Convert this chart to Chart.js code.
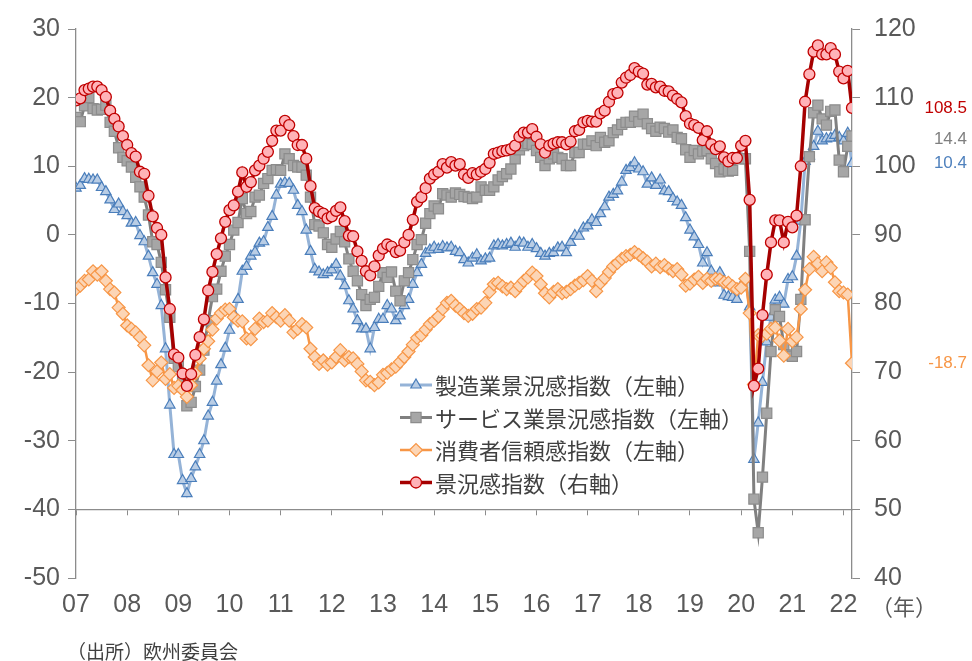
<!DOCTYPE html>
<html>
<head>
<meta charset="utf-8">
<script src="https://cdn.jsdelivr.net/npm/chart.js@4.4.1/dist/chart.umd.min.js"></script>
<style>
  html, body { margin: 0; padding: 0; background: #fff; }
  #wrap { width: 972px; height: 661px; }
</style>
</head>
<body>
<div id="wrap"><canvas id="c" width="972" height="661"></canvas></div>
<script>
// monthly, Jan 2007 .. Mar 2022
const yearLabels = ["07","08","09","10","11","12","13","14","15","16","17","18","19","20","21","22"];

const industry = [
  6.8, 7.2, 8.2, 8.1, 8.0, 8.0, 6.9, 6.3, 5.1, 3.7, 4.5, 3.4,
  2.8, 1.7, 1.8, -0.1, -1.0, -3.1, -5.5, -7.2, -10.3, -16.6, -24.8, -32.0,
  -32.0, -35.8, -37.7, -35.5, -33.8, -32.0, -30.0, -26.4, -24.4, -21.3, -18.9, -16.5,
  -13.9, -11.5, -9.4, -5.3, -4.6, -3.1, -2.5, -1.2, -1.0, 1.1, 2.7, 5.8,
  7.4, 7.6, 7.5, 6.5, 4.3, 3.4, 0.7, -2.4, -5.0, -5.4, -5.8, -5.5,
  -5.1, -4.3, -6.0, -7.4, -9.6, -10.8, -12.5, -13.7, -13.7, -16.6, -13.5, -12.3,
  -12.3, -10.3, -10.8, -12.5, -11.8, -10.3, -9.4, -7.2, -5.5, -4.3, -2.7, -2.2,
  -1.8, -2.1, -1.7, -1.9, -1.8, -2.4, -2.6, -3.6, -4.1, -3.4, -2.9, -3.8,
  -3.5, -3.4, -1.6, -1.4, -1.6, -1.4, -1.2, -1.8, -1.1, -1.2, -1.8, -1.4,
  -2.0, -2.7, -3.1, -2.7, -2.6, -1.9, -1.8, -2.6, -1.1, -0.1, -0.2, 1.0,
  1.3, 2.2, 1.8, 3.1, 4.1, 5.5, 5.9, 6.4, 7.7, 9.4, 9.8, 10.5,
  9.6, 9.2, 7.4, 8.3, 7.2, 8.0, 6.4, 6.3, 5.3, 4.8, 4.3, 2.5,
  0.7, -0.3, -1.4, -4.1, -2.6, -5.3, -7.0, -5.5, -8.8, -9.0, -9.1, -9.4,
  -7.4, -6.5, -10.5, -32.7, -27.4, -21.5, -15.6, -12.0, -9.5, -9.1, -10.1, -6.5,
  -6.1, -3.1, 2.0, 10.7, 11.5, 12.9, 15.1, 13.7, 14.0, 14.1, 14.5, 14.2,
  13.7, 14.8, 10.4
];

const services = [
  17.1, 16.5, 18.8, 20.0, 18.4, 18.2, 18.3, 18.9, 16.4, 15.1, 12.7, 11.3,
  10.8, 9.9, 8.4, 7.0, 5.5, 2.9, -1.0, -1.4, -4.0, -8.0, -12.0, -18.0,
  -19.2, -21.4, -24.9, -24.4, -22.1, -19.7, -16.8, -12.5, -9.0, -7.9, -5.3, -3.1,
  -1.4, 0.7, 1.8, 5.3, 3.1, 3.4, 5.5, 5.8, 7.5, 8.2, 9.4, 9.5,
  9.4, 11.8, 11.1, 10.1, 9.9, 9.9, 8.7, 5.5, 1.5, 1.3, 0.3, -1.4,
  -1.8, -0.6, 0.5, -1.0, -3.5, -5.3, -6.7, -8.7, -10.3, -9.4, -9.1, -7.5,
  -5.5, -6.2, -5.4, -8.2, -9.6, -6.7, -5.5, -3.6, -1.4, -0.7, 1.7, 3.1,
  4.2, 3.8, 6.0, 5.8, 5.5, 6.1, 5.9, 5.6, 5.5, 5.3, 5.5, 7.0,
  6.5, 6.5, 7.0, 8.0, 8.5, 8.9, 9.6, 11.1, 12.4, 13.0, 13.3, 13.2,
  12.3, 11.3, 10.1, 11.1, 11.8, 11.3, 11.1, 10.1, 10.1, 12.0, 12.0, 13.2,
  13.2, 13.7, 13.0, 14.2, 13.5, 13.7, 14.9, 15.3, 16.1, 16.4, 16.4, 17.3,
  16.5, 17.6, 16.2, 15.5, 15.1, 15.7, 15.5, 15.0, 15.3, 14.2, 14.0, 12.4,
  11.3, 12.3, 11.8, 12.2, 12.3, 11.1, 10.4, 9.2, 9.6, 9.3, 9.4, 11.2,
  11.1, 11.1, -2.4, -38.5, -43.4, -35.3, -26.0, -17.0, -10.9, -11.9, -16.0, -17.5,
  -17.7, -17.0, -9.4, 2.2, 11.4, 17.8, 18.9, 16.9, 16.0, 18.0, 18.2, 10.9,
  9.2, 12.9, 14.4
];

const consumer = [
  -7.9, -7.4, -6.7, -6.5, -5.3, -5.8, -5.3, -6.7, -7.9, -8.4, -10.6, -11.5,
  -13.2, -13.7, -14.2, -14.9, -16.1, -19.0, -21.2, -19.9, -18.6, -21.0, -20.3, -22.3,
  -22.0, -22.6, -23.6, -21.9, -20.2, -18.0, -16.6, -15.5, -13.8, -12.2, -11.4, -10.9,
  -10.8, -12.0, -12.5, -12.6, -15.1, -15.2, -13.7, -12.2, -12.7, -12.5, -11.4, -12.0,
  -12.5, -11.7, -12.5, -14.2, -13.7, -13.0, -13.5, -16.6, -17.8, -18.8, -18.3, -18.9,
  -18.6, -17.8, -16.8, -18.3, -17.8, -18.0, -18.8, -19.9, -21.2, -21.4, -21.9, -21.5,
  -20.4, -20.1, -19.6, -19.2, -18.5, -17.8, -17.0, -16.0, -15.0, -14.6, -13.8, -13.0,
  -12.5, -11.9, -10.8, -9.9, -9.6, -10.3, -10.8, -11.4, -11.8, -11.5, -10.8, -10.6,
  -9.9, -8.3, -7.2, -7.0, -7.5, -7.9, -7.7, -8.2, -7.4, -6.7, -6.2, -5.5,
  -6.0, -7.2, -8.5, -9.1, -8.3, -7.9, -8.5, -8.3, -7.9, -7.4, -7.0, -6.6,
  -6.0, -6.7, -8.2, -7.0, -6.3, -5.4, -4.6, -4.1, -3.5, -3.1, -2.9, -2.5,
  -2.9, -3.4, -3.9, -4.6, -4.2, -4.7, -4.4, -4.9, -5.3, -5.0, -5.8, -7.4,
  -7.1, -6.5, -6.1, -7.0, -6.4, -6.7, -6.4, -6.5, -6.9, -7.0, -7.5, -7.9,
  -7.7, -6.4, -11.4, -21.8, -14.6, -14.7, -14.4, -13.7, -13.5, -15.4, -17.6, -13.7,
  -15.5, -14.9, -10.8, -8.0, -5.0, -3.2, -4.2, -5.3, -4.0, -4.8, -6.9, -8.2,
  -8.4, -8.7, -18.7
];

const sentiment = [
  109.6, 109.9, 111.1, 111.3, 111.6, 111.6, 111.1, 110.1, 108.1, 106.9, 105.8, 104.4,
  103.1, 101.9, 101.4, 99.2, 98.9, 95.7, 92.7, 91.0, 90.0, 83.8, 79.2, 72.6,
  72.1, 69.8, 68.0, 69.7, 72.5, 75.1, 77.7, 81.9, 84.6, 87.2, 89.5, 91.9,
  93.6, 94.3, 96.3, 99.1, 97.0, 97.7, 99.4, 100.1, 101.1, 102.1, 103.7, 105.2,
  105.2, 106.6, 106.0, 104.4, 103.1, 103.1, 101.1, 97.1, 93.9, 93.4, 93.1, 92.4,
  92.7, 93.5, 94.0, 92.0, 89.9, 89.8, 87.6, 86.2, 84.7, 84.1, 85.4, 87.0,
  88.0, 88.6, 88.3, 87.5, 87.7, 88.9, 90.0, 92.2, 94.8, 95.5, 96.8, 98.2,
  98.8, 99.2, 100.3, 99.8, 100.6, 100.1, 100.3, 98.8, 98.3, 99.0, 98.8, 99.2,
  99.6, 100.5, 101.8, 102.0, 102.2, 102.3, 102.5, 103.0, 104.3, 104.9, 104.9, 105.4,
  104.3, 103.2, 102.0, 103.0, 103.3, 103.5, 103.5, 103.2, 103.6, 105.1, 105.3, 106.4,
  106.6, 106.5, 106.5, 107.7, 108.1, 109.4, 110.5, 110.7, 112.2, 112.9, 113.3, 114.3,
  113.8, 113.5, 111.9, 112.0, 111.5, 111.6, 111.0, 110.9, 110.3, 109.8, 109.3, 107.3,
  106.2, 106.0, 105.6, 103.8, 105.1, 103.2, 102.5, 102.9, 101.3, 100.7, 101.2, 101.2,
  103.0, 103.7, 95.1, 68.0, 70.5, 78.3, 84.2, 88.9, 92.1, 92.1, 88.9, 91.9,
  91.1, 92.8, 100.0, 109.4, 113.4, 116.7, 117.6, 116.3, 116.3, 117.2, 116.3, 113.8,
  112.8, 113.9, 108.5
];

const seriesNames = [
  "製造業景況感指数（左軸）",
  "サービス業景況感指数（左軸）",
  "消費者信頼感指数（左軸）",
  "景況感指数（右軸）"
];

const lastMonth = sentiment.length - 1;
const NUM_FONT = "'Liberation Sans', Arial, sans-serif";
const JP_FONT = "'Noto Sans CJK JP', sans-serif";
const AXIS_GREY = "#8c8c8c";
const TEXT_GREY = "#595959";

function toPoints(arr) {
  return arr.map((v, i) => ({ x: i, y: v }));
}

const datasets = [
  {
    label: seriesNames[0], data: toPoints(industry), yAxisID: "y", order: 3,
    borderColor: "#95b3d7", borderWidth: 3,
    pointStyle: "triangle", pointRadius: 6,
    pointBackgroundColor: "#b9cde5", pointBorderColor: "#4a7ebb", pointBorderWidth: 1.2,
    endColor: "#4f81bd"
  },
  {
    label: seriesNames[1], data: toPoints(services), yAxisID: "y", order: 2,
    borderColor: "#808080", borderWidth: 3,
    pointStyle: "rect", pointRadius: 7.2,
    pointBackgroundColor: "#a6a6a6", pointBorderColor: "#8c8c8c", pointBorderWidth: 1.2,
    endColor: "#7f7f7f"
  },
  {
    label: seriesNames[2], data: toPoints(consumer), yAxisID: "y", order: 1,
    borderColor: "#f79646", borderWidth: 2.5,
    pointStyle: "rectRot", pointRadius: 6.5,
    pointBackgroundColor: "#fcd5b5", pointBorderColor: "#f79646", pointBorderWidth: 1.2,
    endColor: "#f79646"
  },
  {
    label: seriesNames[3], data: toPoints(sentiment), yAxisID: "y1", order: 0,
    borderColor: "#a50000", borderWidth: 3.5,
    pointStyle: "circle", pointRadius: 5.5,
    pointBackgroundColor: "#ffb3b8", pointBorderColor: "#c00000", pointBorderWidth: 1.3,
    endColor: "#c00000"
  }
];

function drawMarker(ctx, ds, x, y) {
  ctx.save();
  ctx.fillStyle = ds.pointBackgroundColor;
  ctx.strokeStyle = ds.pointBorderColor;
  ctx.lineWidth = ds.pointBorderWidth;
  if (Chart.helpers && Chart.helpers.drawPoint) {
    Chart.helpers.drawPoint(ctx, {
      pointStyle: ds.pointStyle, radius: ds.pointRadius, rotation: 0, borderWidth: ds.pointBorderWidth
    }, x, y);
  }
  ctx.restore();
}

const overlay = {
  id: "overlay",
  afterDraw(chart) {
    const ctx = chart.ctx;
    const yL = chart.scales.y, yR = chart.scales.y1;

    // legend inside the plot
    ctx.save();
    chart.data.datasets.forEach((ds, row) => {
      const ly = 385 + row * 32.5;
      ctx.strokeStyle = ds.borderColor;
      ctx.lineWidth = ds.borderWidth;
      ctx.beginPath();
      ctx.moveTo(400, ly);
      ctx.lineTo(432, ly);
      ctx.stroke();
      drawMarker(ctx, ds, 416, ly);
      ctx.fillStyle = "#404040";
      ctx.font = "22px " + JP_FONT;
      ctx.textAlign = "left";
      ctx.textBaseline = "middle";
      ctx.fillText(ds.label, 435, ly + 1);
    });

    // last values at the right edge
    ctx.font = "17px " + NUM_FONT;
    ctx.textAlign = "right";
    ctx.textBaseline = "middle";
    chart.data.datasets.forEach(ds => {
      const v = ds.data[lastMonth].y;
      const sc = ds.yAxisID === "y1" ? yR : yL;
      let py = sc.getPixelForValue(v);
      if (ds.label === seriesNames[1]) py += 3;
      ctx.fillStyle = ds.endColor;
      ctx.fillText(v.toFixed(1), 967, py);
    });

    // unit and source
    ctx.fillStyle = TEXT_GREY;
    ctx.font = "22px " + JP_FONT;
    ctx.textAlign = "left";
    ctx.fillText("（年）", 871, 607);
    ctx.fillStyle = "#404040";
    ctx.font = "19px " + JP_FONT;
    ctx.fillText("（出所）欧州委員会", 67, 652);
    ctx.restore();
  }
};

new Chart(document.getElementById("c"), {
  type: "line",
  data: { datasets: datasets },
  options: {
    responsive: false,
    animation: false,
    devicePixelRatio: 1,
    layout: { padding: { top: 24, left: 0, right: 0, bottom: 0 } },
    elements: { line: { tension: 0 } },
    plugins: { legend: { display: false }, tooltip: { enabled: false } },
    scales: {
      x: {
        type: "linear", axis: "x", position: { y: -40 },
        min: 0, max: lastMonth,
        ticks: { display: false, stepSize: 12, includeBounds: false },
        grid: { drawOnChartArea: false, drawTicks: true, tickLength: 5, color: AXIS_GREY },
        border: { color: AXIS_GREY, width: 1.3 }
      },
      x2: {
        type: "linear", axis: "x", position: "bottom",
        min: 0, max: lastMonth,
        grid: { display: false, drawTicks: false },
        border: { display: false },
        ticks: {
          stepSize: 12, includeBounds: false, padding: 12, maxRotation: 0, autoSkip: false,
          color: TEXT_GREY, font: { family: NUM_FONT, size: 25 },
          callback: v => yearLabels[Math.round(v / 12)]
        },
        afterFit: s => { s.height = 83; }
      },
      y: {
        position: "left", min: -50, max: 30,
        ticks: { stepSize: 10, padding: 8, color: TEXT_GREY, font: { family: NUM_FONT, size: 25 } },
        grid: { drawOnChartArea: false, drawTicks: true, tickLength: 8, color: AXIS_GREY },
        border: { color: AXIS_GREY, width: 1.3 },
        afterFit: s => { s.width = 76; }
      },
      y1: {
        position: "right", min: 40, max: 120,
        ticks: { stepSize: 10, padding: 14, color: TEXT_GREY, font: { family: NUM_FONT, size: 25 } },
        grid: { drawOnChartArea: false, drawTicks: true, tickLength: 8, color: AXIS_GREY },
        border: { color: AXIS_GREY, width: 1.3 },
        afterFit: s => { s.width = 120; }
      }
    }
  },
  plugins: [overlay]
});
</script>
</body>
</html>
